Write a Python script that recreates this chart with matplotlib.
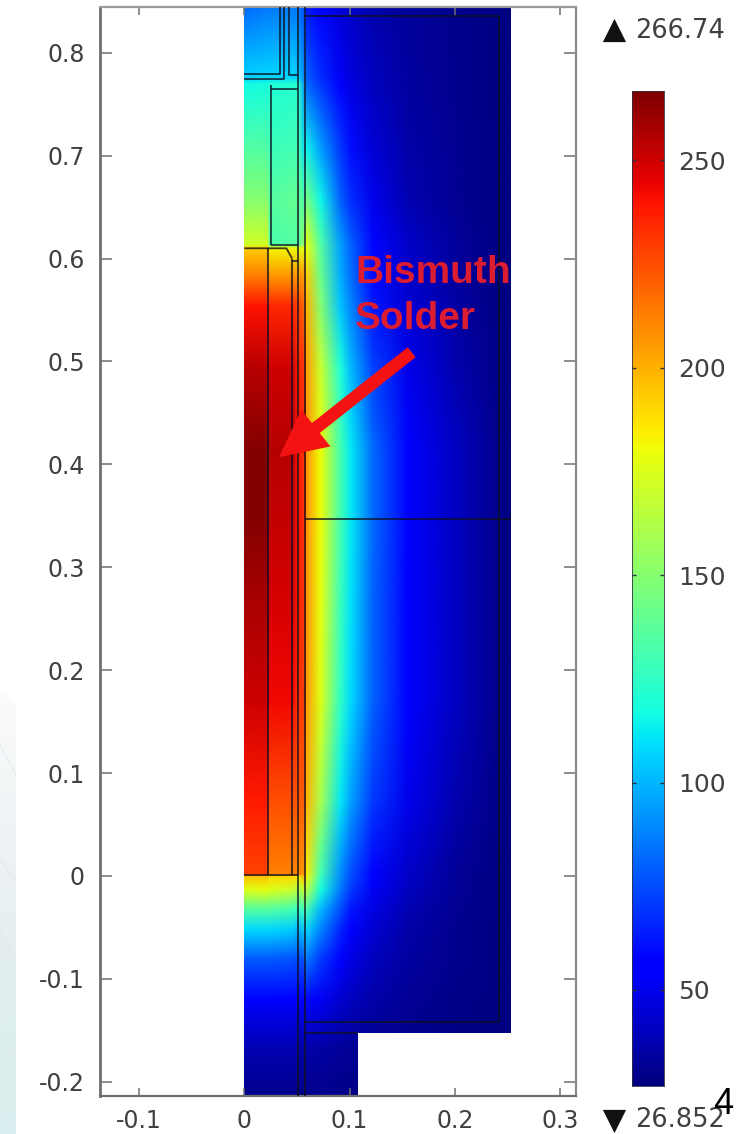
import numpy as np
import matplotlib
matplotlib.use("Agg")
import matplotlib.pyplot as plt
from matplotlib.colors import Normalize, LinearSegmentedColormap
from matplotlib.image import NonUniformImage
from matplotlib.patches import Polygon, FancyArrowPatch

T_MIN, T_MAX = 26.852, 266.74
x_ticks = [-0.1, 0, 0.1, 0.2, 0.3]
x_labels = ["-0.1", "0", "0.1", "0.2", "0.3"]
y_ticks = [-0.2, -0.1, 0, 0.1, 0.2, 0.3, 0.4, 0.5, 0.6, 0.7, 0.8]
y_labels = ["-0.2", "-0.1", "0", "0.1", "0.2", "0.3", "0.4", "0.5", "0.6", "0.7", "0.8"]
cb_ticks = [50, 100, 150, 200, 250]

x_nodes = [0, 0.022, 0.0235, 0.0455, 0.051, 0.0575, 0.0585, 0.072, 0.091, 0.101, 0.122, 0.155, 0.202, 0.24, 0.2535]
y_nodes = [0.8445, 0.7755, 0.769, 0.7055, 0.657, 0.613, 0.610, 0.584, 0.553, 0.492, 0.414, 0.346,
           0.268, 0.171, 0.074, 0.001, -0.001, -0.0136, -0.033, -0.0525, -0.0816, -0.1205, -0.169, -0.2138]
temperature = [
    [82, 85, 85, 85, 85, 72, 62, 55, 46, 42, 37, 33, 30, 28, 27],
    [106, 108, 108, 108, 105, 85, 80, 68, 52, 46, 40, 34, 30, 28, 27],
    [116, 118, 120, 122, 122, 88, 82, 70, 54, 48, 40, 34, 30, 28, 27],
    [135, 135, 128, 130, 130, 108, 115, 95, 70, 60, 45, 36, 31, 28, 27],
    [150, 150, 135, 140, 140, 130, 145, 115, 80, 68, 50, 38, 31, 28, 27],
    [172, 172, 132, 135, 135, 160, 178, 135, 95, 80, 58, 42, 33, 28, 27],
    [192, 192, 182, 182, 175, 178, 180, 136, 95, 80, 58, 42, 33, 28, 27],
    [212, 212, 205, 205, 205, 205, 192, 142, 98, 83, 59, 43, 33, 28, 27],
    [240, 240, 235, 235, 228, 215, 200, 150, 103, 88, 62, 45, 35, 28, 27],
    [255, 255, 250, 250, 235, 230, 205, 170, 120, 100, 72, 50, 37, 29, 27],
    [265, 265, 255, 255, 238, 232, 207, 180, 130, 112, 82, 57, 40, 30, 27],
    [265, 265, 252, 252, 238, 232, 207, 180, 130, 112, 82, 57, 40, 30, 27],
    [258, 258, 248, 248, 236, 230, 207, 178, 128, 110, 80, 55, 40, 30, 27],
    [250, 250, 243, 243, 232, 228, 205, 175, 125, 108, 80, 55, 40, 30, 27],
    [238, 238, 225, 225, 222, 220, 200, 160, 112, 95, 70, 50, 37, 29, 27],
    [228, 228, 212, 212, 210, 205, 185, 130, 90, 75, 55, 42, 32, 28, 27],
    [195, 195, 190, 190, 185, 200, 182, 128, 90, 75, 55, 42, 32, 28, 27],
    [175, 178, 175, 170, 160, 170, 165, 118, 85, 70, 52, 40, 32, 28, 27],
    [135, 135, 135, 130, 125, 130, 130, 100, 75, 62, 48, 38, 31, 28, 27],
    [108, 108, 108, 105, 100, 105, 108, 88, 66, 56, 44, 36, 30, 28, 27],
    [78, 78, 78, 76, 74, 78, 85, 70, 55, 48, 40, 34, 30, 28, 27],
    [55, 55, 55, 55, 55, 55, 58, 52, 44, 40, 36, 32, 29, 28, 27],
    [38, 38, 38, 38, 36, 36, 36, 35, 33, 32, 30, 29, 28, 27, 27],
    [30, 30, 30, 30, 29, 29, 30, 30, 29, 29, 28, 28, 27, 27, 27],
]

domain_outline = [(0, 0.8445), (0.2535, 0.8445), (0.2535, -0.153), (0.108, -0.153),
                  (0.108, -0.2138), (0, -0.2138)]
edge_lines = [
    ([0.051, 0.051], [-0.2138, 0.8445]),
    ([0.0575, 0.0575], [-0.2138, 0.8445]),
    ([0.0225, 0.0225], [0.001, 0.610]),
    ([0.0455, 0.0455], [0.001, 0.600]),
    ([0, 0.0225, 0.040, 0.0455], [0.610, 0.610, 0.610, 0.600]),
    ([0.0455, 0.051], [0.598, 0.598]),
    ([0, 0.051], [0.001, 0.001]),
    ([0.0255, 0.0255], [0.613, 0.769]),
    ([0.0255, 0.051], [0.613, 0.613]),
    ([0.0255, 0.051], [0.765, 0.765]),
    ([0, 0.038, 0.038], [0.775, 0.775, 0.8445]),
    ([0, 0.034, 0.034], [0.779, 0.779, 0.8445]),
    ([0.042, 0.042, 0.051], [0.8445, 0.778, 0.778]),
    ([0.0575, 0.242, 0.242, 0.0575], [0.836, 0.836, -0.142, -0.142]),
    ([0.0575, 0.2535], [0.347, 0.347]),
    ([0.0575, 0.108], [-0.153, -0.153]),
]
arrow_tail = (0.159, 0.509)
arrow_tip = (0.033, 0.407)

bg_stops = ["#fbfcfc", "#eef2f4", "#e2eef0", "#d9eeee"]
bg_outline = [(0, 690), (16, 702), (16, 1134), (0, 1134)]
bg_lines = [
    ([0, 16], [745, 775]), ([0, 16], [860, 880]), ([0, 16], [930, 960]),
    ([0, 16], [1020, 1010]), ([0, 16], [1060, 1050]), ([0, 16], [1110, 1130]),
]

W, H = 742, 1134
fig = plt.figure(figsize=(W / 100, H / 100), dpi=100, facecolor="white")
plt.rcParams["font.family"] = "DejaVu Sans"
GRAY = "#404040"
SPINE = "#6f6f6f"
TICK_FS = 17
LEG_FS = 18.5


def rect(l, t, r, b):
    return [l / W, 1 - b / H, (r - l) / W, (b - t) / H]


# faint slide background at the lower left
bg = fig.add_axes([0, 0, 1, 1], zorder=0)
cmap_bg = LinearSegmentedColormap.from_list("bg", bg_stops)
im_bg = bg.imshow(np.linspace(0, 1, 64)[:, None], extent=(0, 16, 1134, 690), cmap=cmap_bg, aspect="auto")
poly_bg = Polygon(bg_outline, transform=bg.transData, fc="none", ec="none")
bg.add_patch(poly_bg)
im_bg.set_clip_path(poly_bg)
for xs, ys in bg_lines:
    bg.plot(xs, ys, color="#e0e6e8", lw=0.6)
bg.set_xlim(0, W)
bg.set_ylim(H, 0)
bg.axis("off")

# main axes
ax = fig.add_axes(rect(100, 7, 576, 1096), zorder=2)
norm = Normalize(T_MIN, T_MAX)
field = NonUniformImage(ax, interpolation="bilinear", cmap="jet", norm=norm,
                        extent=(x_nodes[0], x_nodes[-1], y_nodes[-1], y_nodes[0]))
field.set_data(np.array(x_nodes), np.array(y_nodes[::-1]), np.array(temperature[::-1], float))
ax.add_image(field)
clip = Polygon(domain_outline, transform=ax.transData, fc="none", ec="none")
ax.add_patch(clip)
field.set_clip_path(clip)
ax.set_xlim(-0.137, 0.315)
ax.set_ylim(-0.2138, 0.8445)
ax.set_aspect("auto")
for xs, ys in edge_lines:
    ax.plot(xs, ys, color="#101020", lw=1.3, alpha=0.8, solid_capstyle="butt", zorder=3)

ax.set_xticks(x_ticks, x_labels)
ax.set_yticks(y_ticks, y_labels)
ax.tick_params(axis="both", direction="in", top=True, right=True, color=SPINE, width=1.1,
               labelsize=TICK_FS, labelcolor=GRAY)
ax.tick_params(axis="y", length=8.5, pad=11)
ax.tick_params(axis="x", length=6, pad=9)
for side, lw, col in (("left", 2.0, SPINE), ("bottom", 1.6, SPINE), ("right", 1.6, "#8a8a8a"), ("top", 1.6, "#9a9a9a")):
    ax.spines[side].set_linewidth(lw)
    ax.spines[side].set_color(col)

arrow = FancyArrowPatch(arrow_tail, arrow_tip, arrowstyle="simple,head_length=2.6,head_width=2.6,tail_width=0.7",
                        mutation_scale=13, color="#f51212", lw=0, shrinkA=0, shrinkB=0, zorder=5)
ax.add_patch(arrow)

txt_red = dict(color="#dc1c30", fontsize=28, fontweight="bold", family="Liberation Sans",
               va="center", ha="left", zorder=6)
fig.text(355 / W, 1 - 273 / H, "Bismuth", **txt_red).set_zorder(6)
fig.text(355 / W, 1 - 319 / H, "Solder", **txt_red).set_zorder(6)

# colour bar
cax = fig.add_axes(rect(632, 91, 664, 1086), zorder=2)
grad = np.linspace(T_MIN, T_MAX, 512)[:, None]
cax.imshow(grad, origin="lower", aspect="auto", cmap="jet", norm=norm, extent=(0, 1, T_MIN, T_MAX))
cax.set_xticks([])
cax.set_yticks(cb_ticks, [str(t) for t in cb_ticks])
cax.tick_params(axis="y", direction="in", left=True, right=True, length=3, width=1, color="#303040",
                labelleft=False, labelright=True, labelsize=LEG_FS - 0.5, labelcolor=GRAY, pad=10)
for s in cax.spines.values():
    s.set_linewidth(0.6)
    s.set_color("#303040")

# max / min markers
tx = fig.add_axes([0, 0, 1, 1], zorder=3)
tx.set_xlim(0, W)
tx.set_ylim(H, 0)
tx.axis("off")
tx.patch.set_alpha(0)
tx.scatter([614], [30], marker="^", s=280, color="#111111", lw=0)
tx.scatter([614], [1121], marker="v", s=280, color="#111111", lw=0)
tx.text(635, 31, "266.74", fontsize=LEG_FS, color=GRAY, va="center", ha="left")
tx.text(635, 1120, "26.852", fontsize=LEG_FS, color=GRAY, va="center", ha="left")
tx.text(723, 1104, "4", fontsize=26, color="black", family="Liberation Sans", va="center", ha="center")

fig.savefig("out.png", dpi=100)
